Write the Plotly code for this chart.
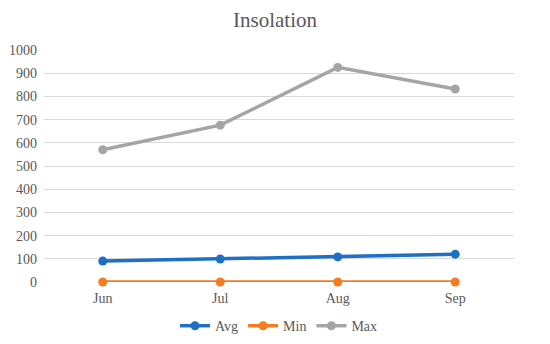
import plotly.graph_objects as go

months = ["Jun", "Jul", "Aug", "Sep"]
avg_vals = [90, 99, 108, 120]
min_vals = [0, 0, 0, 0]
max_vals = [570, 676, 925, 832]
y_ticks = list(range(0, 1001, 100))

series = [
    ("Avg", avg_vals, "#1f6fc5"),
    ("Min", min_vals, "#f57c1f"),
    ("Max", max_vals, "#a5a5a5"),
]

SERIF = "Liberation Serif"

fig = go.Figure()
for name, vals, color in series:
    fig.add_trace(go.Scatter(
        x=months, y=vals, name=name, mode="lines+markers",
        line=dict(color=color, width=3.5),
        marker=dict(color=color, size=9),
        cliponaxis=False,
    ))

fig.update_layout(
    width=550, height=344,
    margin=dict(l=44, r=36, t=50, b=62, autoexpand=False),
    paper_bgcolor="white", plot_bgcolor="white",
    font=dict(family=SERIF, color="#595959", size=13),
    title=dict(text="Insolation", x=0.5, xanchor="center", y=0.942, yanchor="middle",
               font=dict(family=SERIF, size=21, color="#595959")),
    showlegend=True,
    legend=dict(orientation="h", x=0.5, xanchor="center", yref="container", y=0.052,
                yanchor="middle",
                font=dict(family=SERIF, size=14, color="#595959"), itemwidth=30, tracegroupgap=0),
    xaxis=dict(type="category", range=[-0.5, 3.5], showgrid=False, showline=False,
               ticks="", automargin=False, ticklabelstandoff=6,
               tickfont=dict(family=SERIF, size=14)),
    yaxis=dict(range=[0, 1000], tickvals=y_ticks, showgrid=True, gridcolor="#d9d9d9",
               gridwidth=1, zeroline=False, showline=False, ticks="", automargin=False,
               ticklabelstandoff=6, tickfont=dict(family=SERIF, size=14)),
)

fig.write_html("out.html", config={"displayModeBar": False},
               post_script="document.body.style.margin='0';")
